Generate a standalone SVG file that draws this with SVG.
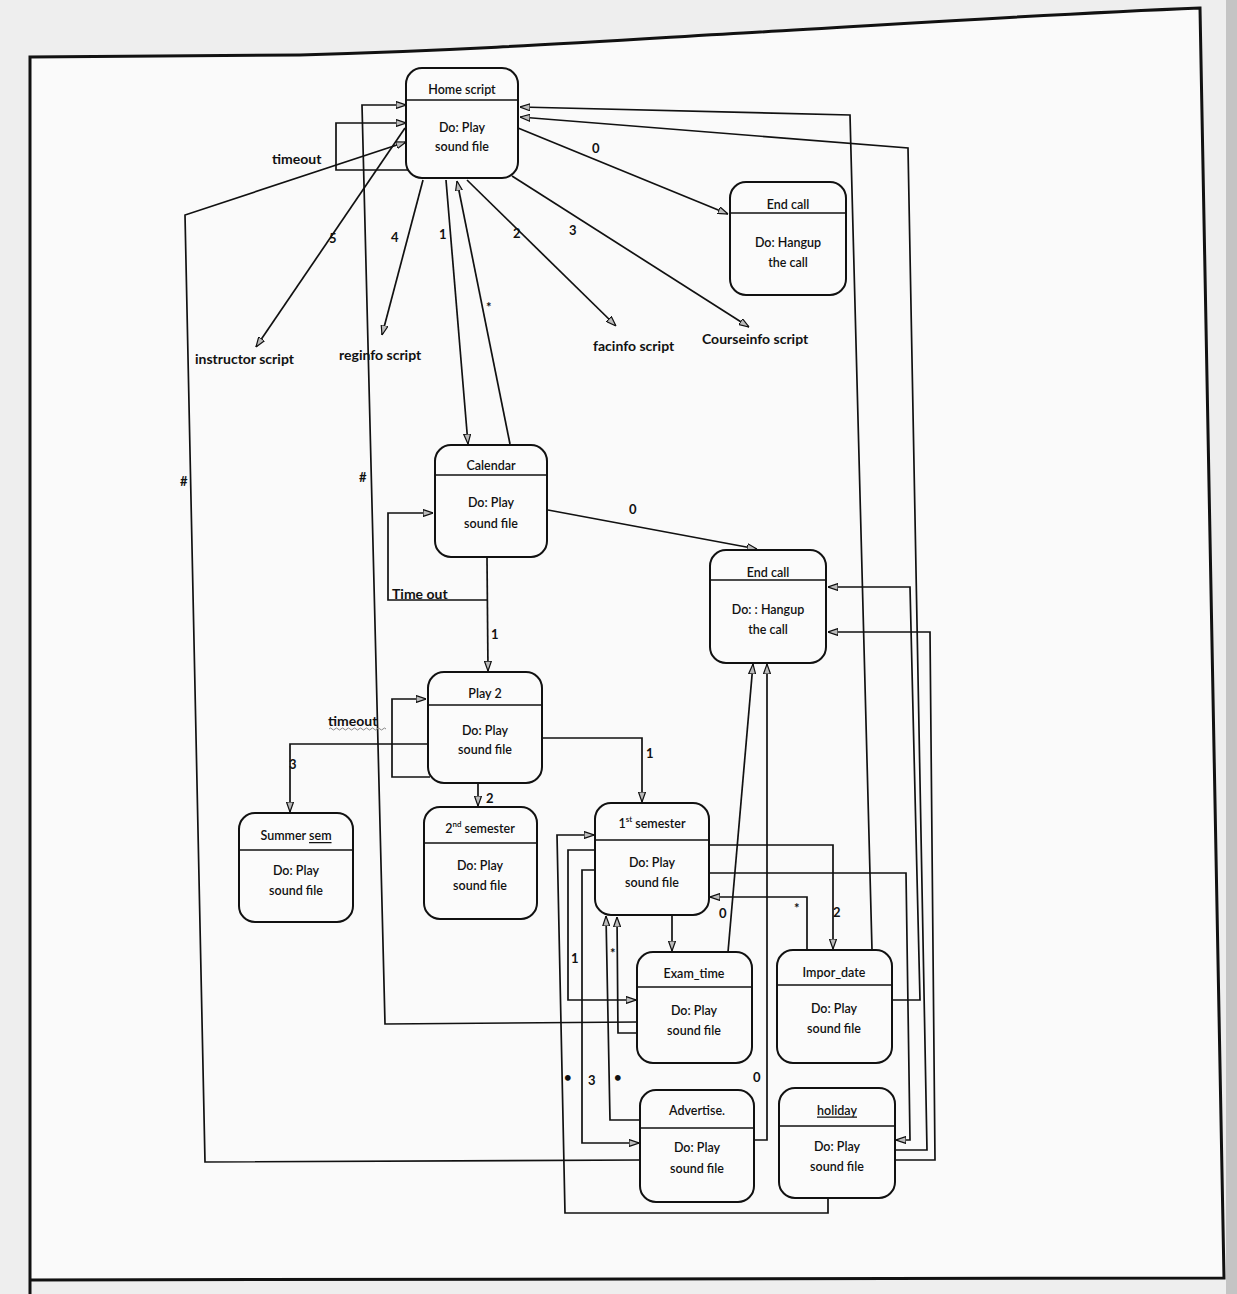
<svg xmlns="http://www.w3.org/2000/svg" width="1237" height="1294" viewBox="0 0 1237 1294">
  <defs>
    <style>
      .box{fill:#fbfbfb;stroke:#111;stroke-width:2}
      .dv{stroke:#111;stroke-width:1.6}
      .t{font-family:Lato,'Liberation Sans',sans-serif;font-size:12.5px;font-weight:600;fill:#111;text-anchor:middle;dominant-baseline:central}
      .lb{font-family:Lato,'Liberation Sans',sans-serif;font-size:14px;font-weight:bold;fill:#111;dominant-baseline:central}
      .n{font-family:Lato,'Liberation Sans',sans-serif;font-size:13px;font-weight:bold;fill:#111;dominant-baseline:central}
      .c{fill:none;stroke:#111;stroke-width:1.7;stroke-linejoin:miter;marker-end:url(#ah)}
      .frame{fill:none;stroke:#111;stroke-width:3}
    </style>
    <marker id="ah" viewBox="0 0 10 8" refX="10" refY="4" markerWidth="10" markerHeight="8" markerUnits="userSpaceOnUse" orient="auto">
      <path d="M0,0.5 L10,4 L0,7.5 z" fill="#bbb" stroke="#111" stroke-width="1.2"/>
    </marker>
  </defs>

  <!-- paper -->
  <rect x="0" y="0" width="1237" height="1294" fill="#eeeeee"/>
  <path d="M30,57 L300,55 C480,50 620,40 760,32 C900,24 1050,14 1200,8 L1224,1278 L30,1280 Z" fill="#fafafa"/>
  <rect x="1226" y="0" width="11" height="1294" fill="#c4c4c4"/>
  <path class="frame" d="M30,1294 L30,57 L300,55 C480,50 620,40 760,32 C900,24 1050,14 1200,8 L1224,1278 L30,1280"/>

  <!-- connectors -->
  <g id="connectors">
    <!-- Home script transitions -->
    <polyline class="c" points="640,1160 205,1162 185,215 406,142"/>
    <polyline class="c" points="637,1022 385,1024 362,105 406,105"/>
    <polyline class="c" points="408,170 336,170 336,123 406,123"/>
    <line class="c" x1="405" y1="128" x2="256" y2="347"/>
    <line class="c" x1="423" y1="180" x2="382" y2="335"/>
    <line class="c" x1="446" y1="180" x2="468" y2="444"/>
    <line class="c" x1="510" y1="444" x2="457" y2="181"/>
    <line class="c" x1="467" y1="180" x2="616" y2="326"/>
    <line class="c" x1="512" y1="176" x2="749" y2="327"/>
    <line class="c" x1="518" y1="128" x2="728" y2="214"/>
    <polyline class="c" points="872,950 850,115 520,107"/>
    <polyline class="c" points="895,1150 927,1150 908,148 520,117"/>

    <!-- End call transitions -->
    <line class="c" x1="548" y1="510" x2="757" y2="549"/>
    <line class="c" x1="728" y1="952" x2="753" y2="664"/>
    <polyline class="c" points="754,1140 767,1140 767,664"/>
    <polyline class="c" points="892,1000 920,1000 910,587 828,587"/>
    <polyline class="c" points="895,1160 935,1160 930,632 828,632"/>

    <!-- Calendar transitions -->
    <polyline class="c" points="487,600 388,600 388,513 433,513"/>
    <line class="c" x1="487" y1="558" x2="488" y2="671"/>

    <!-- Play 2 transitions -->
    <polyline class="c" points="430,777 392,777 392,699 426,699"/>
    <polyline class="c" points="430,744 290,744 290,812"/>
    <line class="c" x1="478" y1="783" x2="478" y2="806"/>
    <polyline class="c" points="542,738 642,738 642,802"/>

    <!-- 1st semester transitions -->
    <polyline class="c" points="595,850 568,850 568,1000 636,1000"/>
    <polyline class="c" points="595,870 582,870 582,1143 639,1143"/>
    <line class="c" x1="672" y1="915" x2="672" y2="951"/>
    <polyline class="c" points="709,845 833,845 833,949"/>
    <polyline class="c" points="709,873 906,873 910,1140 896,1140"/>
    <polyline class="c" points="828,1198 828,1213 565,1213 557,835 594,835"/>
    <polyline class="c" points="640,1120 610,1120 606,916"/>
    <polyline class="c" points="637,1033 618,1033 617,917"/>
    <polyline class="c" points="807,950 807,897 710,897"/>
  </g>

  <!-- transition labels -->
  <g id="labels">
    <text class="lb" x="272" y="158">timeout</text>
    <text class="n" x="329" y="238">5</text>
    <text class="n" x="391" y="237">4</text>
    <text class="n" x="439" y="234">1</text>
    <text class="n" x="486" y="307" font-size="11">*</text>
    <text class="n" x="513" y="233">2</text>
    <text class="n" x="569" y="230">3</text>
    <text class="n" x="592" y="148">0</text>
    <text class="lb" x="195" y="358">instructor script</text>
    <text class="lb" x="339" y="354">reginfo script</text>
    <text class="lb" x="593" y="345">facinfo script</text>
    <text class="lb" x="702" y="338">Courseinfo script</text>
    <text class="n" x="180" y="481" font-size="11">#</text>
    <text class="n" x="359" y="477" font-size="11">#</text>
    <text class="n" x="629" y="509">0</text>
    <text class="lb" x="392" y="593" font-size="13.5" font-weight="600">Time out</text>
    <text class="n" x="491" y="634">1</text>
    <text class="lb" x="328" y="720" font-size="13.5" font-weight="600">timeout</text>
    <path d="M329,729 q1.5,-2 3,0 t3,0 t3,0 t3,0 t3,0 t3,0 t3,0 t3,0 t3,0 t3,0 t3,0 t3,0 t3,0 t3,0 t3,0 t3,0 t3,0 t3,0 t3,0" fill="none" stroke="#888" stroke-width="1"/>
    <text class="n" x="289" y="764">3</text>
    <text class="n" x="486" y="798">2</text>
    <text class="n" x="646" y="753">1</text>
    <text class="n" x="571" y="958">1</text>
    <text class="n" x="610" y="953" font-size="10">*</text>
    <text class="n" x="719" y="913">0</text>
    <text class="n" x="794" y="908" font-size="10">*</text>
    <text class="n" x="833" y="912">2</text>
    <text class="n" x="564" y="1077" font-size="10">•</text>
    <text class="n" x="588" y="1080">3</text>
    <text class="n" x="614" y="1077" font-size="10">•</text>
    <text class="n" x="753" y="1077">0</text>
  </g>

  <!-- states -->
  <g id="home-script">
    <rect class="box" x="406" y="68" width="112" height="110" rx="16"/>
    <line class="dv" x1="406" y1="100" x2="518" y2="100"/>
    <text class="t" x="462" y="89">Home script</text>
    <text class="t" x="462" y="127">Do: Play</text>
    <text class="t" x="462" y="146">sound file</text>
  </g>
  <g id="end-call-1">
    <rect class="box" x="730" y="182" width="116" height="113" rx="16"/>
    <line class="dv" x1="730" y1="213" x2="846" y2="213"/>
    <text class="t" x="788" y="204">End call</text>
    <text class="t" x="788" y="242">Do: Hangup</text>
    <text class="t" x="788" y="262">the call</text>
  </g>
  <g id="calendar">
    <rect class="box" x="435" y="445" width="112" height="112" rx="16"/>
    <line class="dv" x1="435" y1="475" x2="547" y2="475"/>
    <text class="t" x="491" y="465">Calendar</text>
    <text class="t" x="491" y="502">Do: Play</text>
    <text class="t" x="491" y="523">sound file</text>
  </g>
  <g id="end-call-2">
    <rect class="box" x="710" y="550" width="116" height="113" rx="16"/>
    <line class="dv" x1="710" y1="580" x2="826" y2="580"/>
    <text class="t" x="768" y="572">End call</text>
    <text class="t" x="768" y="609">Do: : Hangup</text>
    <text class="t" x="768" y="629">the call</text>
  </g>
  <g id="play-2">
    <rect class="box" x="428" y="672" width="114" height="111" rx="16"/>
    <line class="dv" x1="428" y1="705" x2="542" y2="705"/>
    <text class="t" x="485" y="693">Play 2</text>
    <text class="t" x="485" y="730">Do: Play</text>
    <text class="t" x="485" y="749">sound file</text>
  </g>
  <g id="summer-sem">
    <rect class="box" x="239" y="813" width="114" height="109" rx="16"/>
    <line class="dv" x1="239" y1="850" x2="353" y2="850"/>
    <text class="t" x="296" y="835">Summer <tspan text-decoration="underline">sem</tspan></text>
    <text class="t" x="296" y="870">Do: Play</text>
    <text class="t" x="296" y="890">sound file</text>
  </g>
  <g id="second-semester">
    <rect class="box" x="424" y="807" width="113" height="112" rx="16"/>
    <line class="dv" x1="424" y1="843" x2="537" y2="843"/>
    <text class="t" x="480" y="828">2<tspan font-size="8" dy="-4">nd</tspan><tspan dy="4"> semester</tspan></text>
    <text class="t" x="480" y="865">Do: Play</text>
    <text class="t" x="480" y="885">sound file</text>
  </g>
  <g id="first-semester">
    <rect class="box" x="595" y="803" width="114" height="112" rx="16"/>
    <line class="dv" x1="595" y1="840" x2="709" y2="840"/>
    <text class="t" x="652" y="823">1<tspan font-size="8" dy="-4">st</tspan><tspan dy="4"> semester</tspan></text>
    <text class="t" x="652" y="862">Do: Play</text>
    <text class="t" x="652" y="882">sound file</text>
  </g>
  <g id="exam-time">
    <rect class="box" x="637" y="952" width="115" height="111" rx="16"/>
    <line class="dv" x1="637" y1="987" x2="752" y2="987"/>
    <text class="t" x="694" y="973">Exam_time</text>
    <text class="t" x="694" y="1010">Do: Play</text>
    <text class="t" x="694" y="1030">sound file</text>
  </g>
  <g id="impor-date">
    <rect class="box" x="777" y="950" width="115" height="113" rx="16"/>
    <line class="dv" x1="777" y1="985" x2="892" y2="985"/>
    <text class="t" x="834" y="972">Impor_date</text>
    <text class="t" x="834" y="1008">Do: Play</text>
    <text class="t" x="834" y="1028">sound file</text>
  </g>
  <g id="advertise">
    <rect class="box" x="640" y="1090" width="114" height="112" rx="16"/>
    <line class="dv" x1="640" y1="1128" x2="754" y2="1128"/>
    <text class="t" x="697" y="1110">Advertise.</text>
    <text class="t" x="697" y="1147">Do: Play</text>
    <text class="t" x="697" y="1168">sound file</text>
  </g>
  <g id="holiday">
    <rect class="box" x="779" y="1088" width="116" height="110" rx="16"/>
    <line class="dv" x1="779" y1="1126" x2="895" y2="1126"/>
    <text class="t" x="837" y="1110" text-decoration="underline">holiday</text>
    <text class="t" x="837" y="1146">Do: Play</text>
    <text class="t" x="837" y="1166">sound file</text>
  </g>
</svg>
